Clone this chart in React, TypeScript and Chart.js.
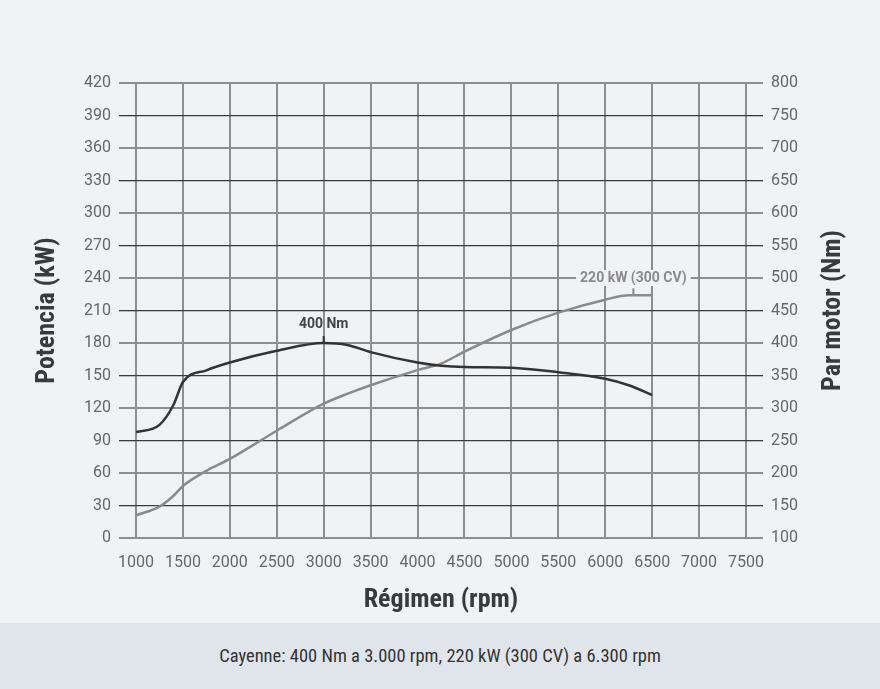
import React, { useEffect, useRef } from "react";
import { Chart, registerables } from "chart.js";

Chart.register(...registerables);

const rpm = [1000, 1250, 1400, 1500, 1750, 2000, 2500, 3000, 3250, 3500, 4000, 4250, 4500, 5000, 5500, 6000, 6250, 6500];
const torqueNm = [263, 274, 305, 340, 358, 370, 388, 400, 397, 386, 370, 365, 363, 362, 355, 345, 335, 320];
const powerKw = [21, 29, 39, 48, 62, 73, 99, 124, 133, 141, 155, 161, 172, 192, 208, 220, 224, 224];

const xTitle = "Régimen (rpm)";
const yLeftTitle = "Potencia (kW)";
const yRightTitle = "Par motor (Nm)";
const caption = "Cayenne: 400 Nm a 3.000 rpm, 220 kW (300 CV) a 6.300 rpm";

const torqueLabel = { text: "400 Nm", rpm: 3000, value: 400 };
const powerLabel = { text: "220 kW (300 CV)", rpm: 6300, value: 224, labelAt: 240 };

const BG = "#f0f3f6";
const BAND = "#dfe5eb";
const TICK_FONT = "Roboto, 'Liberation Sans', sans-serif";
const COND_FONT = "'Roboto Condensed', 'DejaVu Sans Condensed', 'Liberation Sans Narrow', Roboto, sans-serif";

const gridColor = (ctx: any) => (ctx.index % 2 === 0 ? "#8e8e8e" : "#3a3a3a");
const gridWidth = (ctx: any) => (ctx.index % 2 === 0 ? 2 : 1.3);

const annotations = {
  id: "annotations",
  afterDatasetsDraw(chart: any) {
    const { ctx, scales, chartArea } = chart;
    const x = scales.x;
    const yl = scales.yL;
    const yr = scales.yR;
    ctx.save();
    // torque peak label
    const tx = x.getPixelForValue(torqueLabel.rpm);
    const ty = yr.getPixelForValue(torqueLabel.value);
    ctx.strokeStyle = "#333";
    ctx.lineWidth = 2;
    ctx.beginPath();
    ctx.moveTo(tx, ty);
    ctx.lineTo(tx, ty - 7);
    ctx.stroke();
    ctx.font = "bold 14px " + TICK_FONT;
    ctx.fillStyle = "#444";
    ctx.textAlign = "center";
    ctx.textBaseline = "middle";
    ctx.fillText(torqueLabel.text, tx, ty - 19);
    // power peak label
    const px = x.getPixelForValue(powerLabel.rpm);
    const py = yl.getPixelForValue(powerLabel.value);
    const ly = yl.getPixelForValue(powerLabel.labelAt);
    ctx.strokeStyle = "#888";
    ctx.beginPath();
    ctx.moveTo(px, py);
    ctx.lineTo(px, py - 7);
    ctx.stroke();
    const w = ctx.measureText(powerLabel.text).width;
    ctx.fillStyle = BG;
    ctx.fillRect(px - w / 2 - 4, ly - 8, w + 8, 16);
    ctx.fillStyle = "#8a8a8a";
    ctx.fillText(powerLabel.text, px, ly);

    // axis titles
    const cy = (chartArea.top + chartArea.bottom) / 2;
    const cx = (chartArea.left + chartArea.right) / 2;
    ctx.font = "bold 26px " + COND_FONT;
    ctx.fillStyle = "#3a3a3a";
    ctx.fillText(xTitle, cx, chartArea.bottom + 62);
    ctx.save();
    ctx.translate(chartArea.left - 89, cy);
    ctx.rotate(-Math.PI / 2);
    ctx.fillText(yLeftTitle, 0, 0);
    ctx.restore();
    ctx.save();
    ctx.translate(chartArea.right + 87, cy);
    ctx.rotate(-Math.PI / 2);
    ctx.fillText(yRightTitle, 0, 0);
    ctx.restore();
    ctx.restore();
  },
};

export default function App() {
  const ref = useRef<HTMLCanvasElement | null>(null);
  useEffect(() => {
    document.body.style.margin = "0";
    if (!ref.current) return;
    const chart = new Chart(ref.current, {
      type: "line",
      data: {
        datasets: [
          {
            label: "Par motor",
            data: rpm.map((r, i) => ({ x: r, y: torqueNm[i] })),
            yAxisID: "yR",
            borderColor: "#333333",
            borderWidth: 2.5,
            pointRadius: 0,
            cubicInterpolationMode: "monotone",
          },
          {
            label: "Potencia",
            data: rpm.map((r, i) => ({ x: r, y: powerKw[i] })),
            yAxisID: "yL",
            borderColor: "#8a8a8a",
            borderWidth: 2.5,
            pointRadius: 0,
            cubicInterpolationMode: "monotone",
          },
        ],
      },
      options: {
        animation: false,
        responsive: true,
        maintainAspectRatio: false,
        layout: { padding: { top: 83, left: 0, right: 0, bottom: 0 } },
        plugins: { legend: { display: false }, tooltip: { enabled: false } },
        scales: {
          x: {
            type: "linear",
            min: 1000,
            max: 7500,
            ticks: { stepSize: 500, color: "#666", font: { family: TICK_FONT, size: 16 }, padding: 15, maxRotation: 0, callback: (v: any) => String(v) },
            grid: { color: "#8e8e8e", lineWidth: 2, drawTicks: false },
            border: { display: false },
            afterFit: (s: any) => { s.height = 85; },
          },
          yL: {
            position: "left",
            min: 0,
            max: 420,
            ticks: { stepSize: 30, color: "#666", font: { family: TICK_FONT, size: 16 }, padding: 8 },
            grid: { color: gridColor, lineWidth: gridWidth, tickLength: 17 },
            border: { display: false },
            afterFit: (s: any) => { s.width = 136; },
          },
          yR: {
            position: "right",
            min: 100,
            max: 800,
            ticks: { stepSize: 50, color: "#666", font: { family: TICK_FONT, size: 16 }, padding: 8 },
            grid: { color: gridColor, lineWidth: gridWidth, tickLength: 17, drawOnChartArea: false },
            border: { display: false },
            afterFit: (s: any) => { s.width = 134; },
          },
        },
      },
      plugins: [annotations],
    } as any);
    return () => chart.destroy();
  }, []);

  return (
    <div style={{ position: "absolute", left: 0, top: 0, width: 880, height: 689, background: BG }}>
      <div style={{ position: "relative", width: 880, height: 623 }}>
        <canvas ref={ref} />
      </div>
      <div
        style={{
          position: "absolute",
          left: 0,
          top: 623,
          width: 880,
          height: 66,
          background: BAND,
          display: "flex",
          alignItems: "center",
          justifyContent: "center",
          fontFamily: COND_FONT,
          fontSize: 18.5,
          color: "#333",
        }}
      >
        {caption}
      </div>
    </div>
  );
}
